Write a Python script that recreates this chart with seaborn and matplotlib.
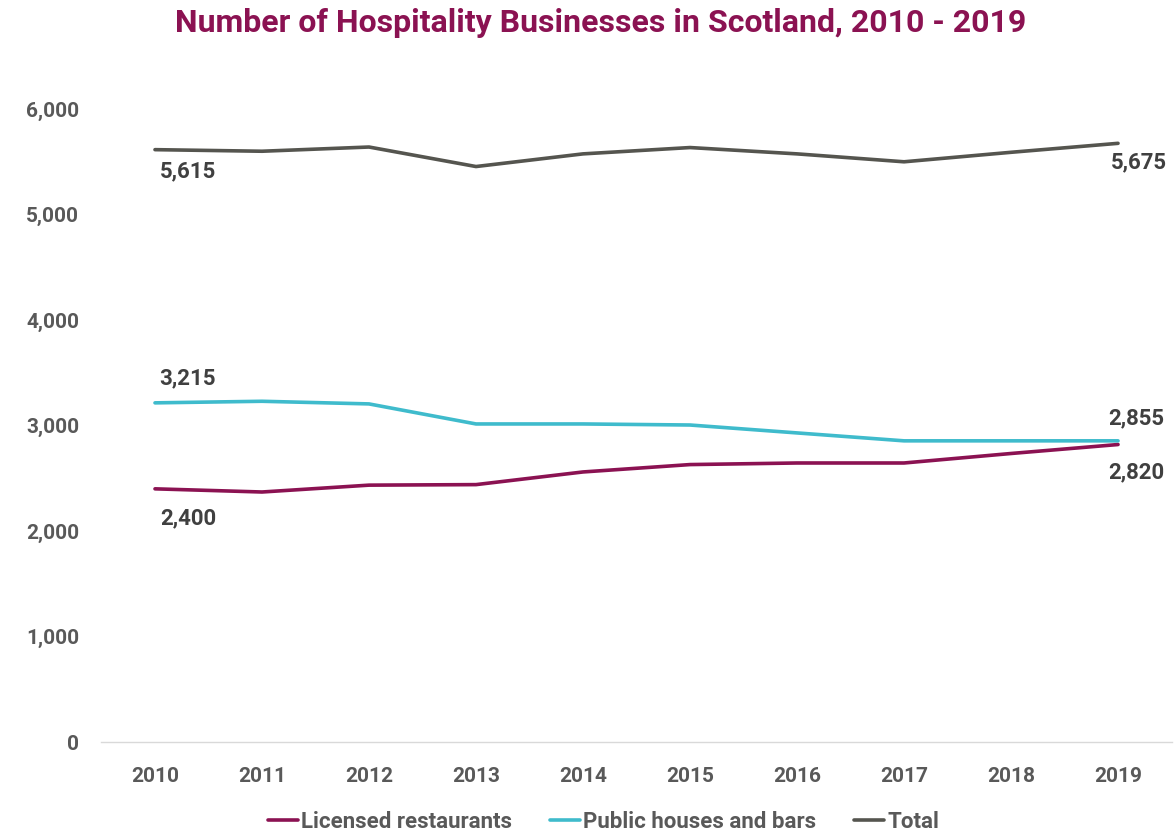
import matplotlib
matplotlib.use("Agg")
import matplotlib.pyplot as plt
import seaborn as sns
import pandas as pd

years = ["2010", "2011", "2012", "2013", "2014", "2015", "2016", "2017", "2018", "2019"]
licensed_restaurants = [2400, 2370, 2435, 2440, 2560, 2630, 2645, 2645, 2735, 2820]
public_houses_bars = [3215, 3230, 3205, 3015, 3015, 3005, 2930, 2855, 2855, 2855]
total = [5615, 5600, 5640, 5455, 5575, 5635, 5575, 5500, 5590, 5675]

series_names = ["Licensed restaurants", "Public houses and bars", "Total"]
series_values = [licensed_restaurants, public_houses_bars, total]
colors = ["#8B1252", "#3FBBCC", "#55554F"]

y_ticks = [0, 1000, 2000, 3000, 4000, 5000, 6000]
title = "Number of Hospitality Businesses in Scotland, 2010 - 2019"

rows = []
for name, vals in zip(series_names, series_values):
    for i, (yr, v) in enumerate(zip(years, vals)):
        rows.append({"idx": i, "year": yr, "series": name, "value": v})
df = pd.DataFrame(rows)

sns.set_theme(style="white")
plt.rcParams["font.family"] = ["Roboto", "DejaVu Sans"]

fig = plt.figure(figsize=(11.76, 8.33), dpi=100)
ax = fig.add_axes([0.0863, 0.1092, 0.9099, 0.7599])

sns.lineplot(data=df, x="idx", y="value", hue="series", hue_order=series_names,
             palette=colors, linewidth=2.6, ax=ax, legend=True)

ax.set_xlim(-0.5, len(years) - 0.5)
ax.set_ylim(0, 6000)
ax.set_xticks(range(len(years)))
ax.set_xticklabels(years)
ax.set_yticks(y_ticks)
ax.set_yticklabels([f"{t:,}" for t in y_ticks])
ax.set_xlabel("")
ax.set_ylabel("")
for lab in ax.get_xticklabels() + ax.get_yticklabels():
    lab.set_fontweight("bold")
    lab.set_color("#595959")
    lab.set_fontsize(15)
ax.tick_params(axis="x", length=0, pad=18)
ax.tick_params(axis="y", length=0, pad=16)

for side in ["top", "right", "left"]:
    ax.spines[side].set_visible(False)
ax.spines["bottom"].set_color("#D9D9D9")
ax.spines["bottom"].set_linewidth(1.0)
ax.grid(False)

# value labels at the first and last year of each series
label_style = dict(fontsize=16, fontweight="bold", color="#404040",
                   textcoords="offset pixels", ha="center", va="center")
last = len(years) - 1
ax.annotate(f"{total[0]:,}", (0, total[0]), xytext=(33, -22), **label_style)
ax.annotate(f"{total[last]:,}", (last, total[last]), xytext=(21, -19), **label_style)
ax.annotate(f"{public_houses_bars[0]:,}", (0, public_houses_bars[0]), xytext=(33, 25), **label_style)
ax.annotate(f"{licensed_restaurants[0]:,}", (0, licensed_restaurants[0]), xytext=(33, -30), **label_style)
ax.annotate(f"{public_houses_bars[last]:,}", (last, public_houses_bars[last]), xytext=(18, 22), **label_style)
ax.annotate(f"{licensed_restaurants[last]:,}", (last, licensed_restaurants[last]), xytext=(18, -28), **label_style)

fig.text(0.511, 0.99, title, ha="center", va="top", fontsize=23,
         fontweight="bold", color="#8B1252")

sns.move_legend(ax, "center", bbox_to_anchor=(0.513, 11 / 833), bbox_transform=fig.transFigure,
                ncol=3, frameon=False, title=None, fontsize=16, handlelength=1.35,
                handletextpad=0.15, columnspacing=1.7)
leg = ax.get_legend()
for t in leg.get_texts():
    t.set_fontweight("bold")
    t.set_color("#595959")

fig.savefig("out.png", dpi=100)
